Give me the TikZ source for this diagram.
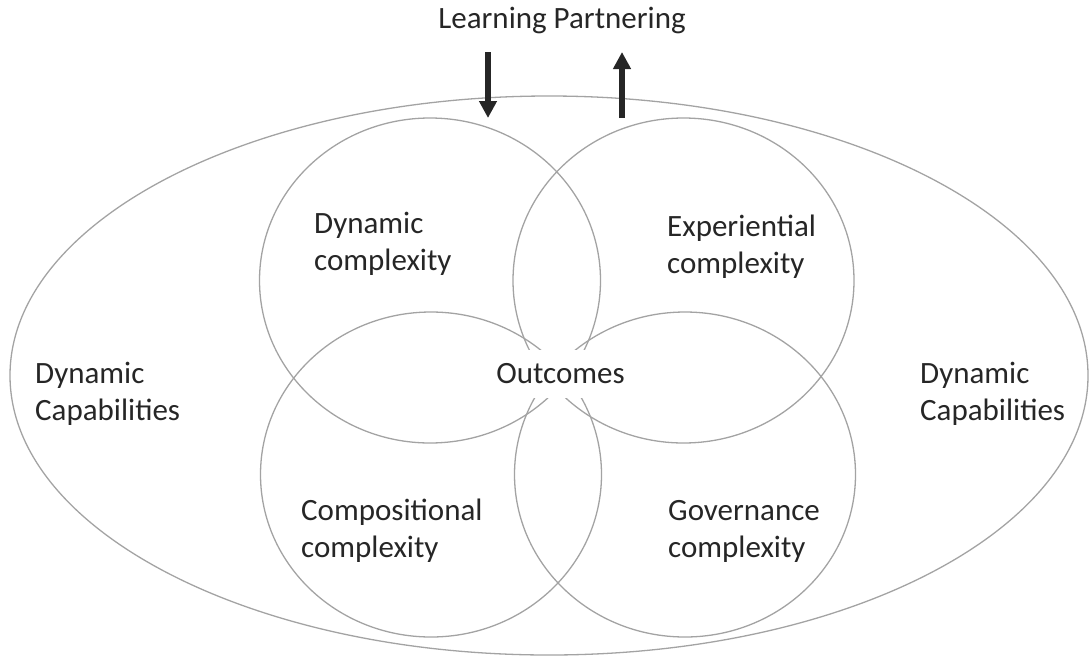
\documentclass[tikz,border=0pt]{standalone}
\usepackage{fontspec}
\setmainfont{Carlito}
\usetikzlibrary{arrows.meta}
\definecolor{linegray}{HTML}{A3A3A3}
\definecolor{txtcol}{HTML}{262626}
\begin{document}
\begin{tikzpicture}[x=1pt,y=-1pt,
  ring/.style={draw=linegray, line width=1.3pt},
  lbl/.style={text=txtcol, font=\fontsize{31}{37}\selectfont, inner sep=0pt, align=left},
  bigarrow/.style={draw=txtcol, line width=5.5pt, -{Triangle[width=17pt,length=17pt]}}]
\useasboundingbox (0,0) rectangle (1091,662);
% outer ellipse
\draw[ring] (549,375.5) ellipse [x radius=539, y radius=279.5];
% four overlapping circles
\draw[ring] (430,280.5) ellipse [x radius=170.5, y radius=162.5];
\draw[ring] (683.5,280.5) ellipse [x radius=170.5, y radius=162.5];
\draw[ring] (431,474.5) ellipse [x radius=170.5, y radius=162.5];
\draw[ring] (685,474.5) ellipse [x radius=170.5, y radius=162.5];
% labels (base anchor = baseline of the last line)
\node[lbl, anchor=base west] (dyn) at (314,270) {Dynamic\\complexity};
\node[lbl, anchor=base west] (exp) at (667,273) {Experiential\\complexity};
\node[lbl, anchor=base west] (comp) at (301,557) {Compositional\\complexity};
\node[lbl, anchor=base west] (gov) at (668,557) {Governance\\complexity};
\node[lbl, anchor=base west] (dcl) at (35,420) {Dynamic\\Capabilities};
\node[lbl, anchor=base west] (dcr) at (920,420) {Dynamic\\Capabilities};
\node[lbl, fill=white, inner xsep=3pt, text height=23pt, text depth=4pt, minimum height=48pt] (out) at (560.5,374) {Outcomes};
\node[lbl, anchor=base] (lp) at (562,28) {Learning Partnering};
% arrows
\coordinate (dA) at (488,52);
\coordinate (dB) at (488,118);
\coordinate (uA) at (622,118);
\coordinate (uB) at (622,52);
\draw[bigarrow] (dA) -- (dB);
\draw[bigarrow] (uA) -- (uB);
\end{tikzpicture}
\end{document}
